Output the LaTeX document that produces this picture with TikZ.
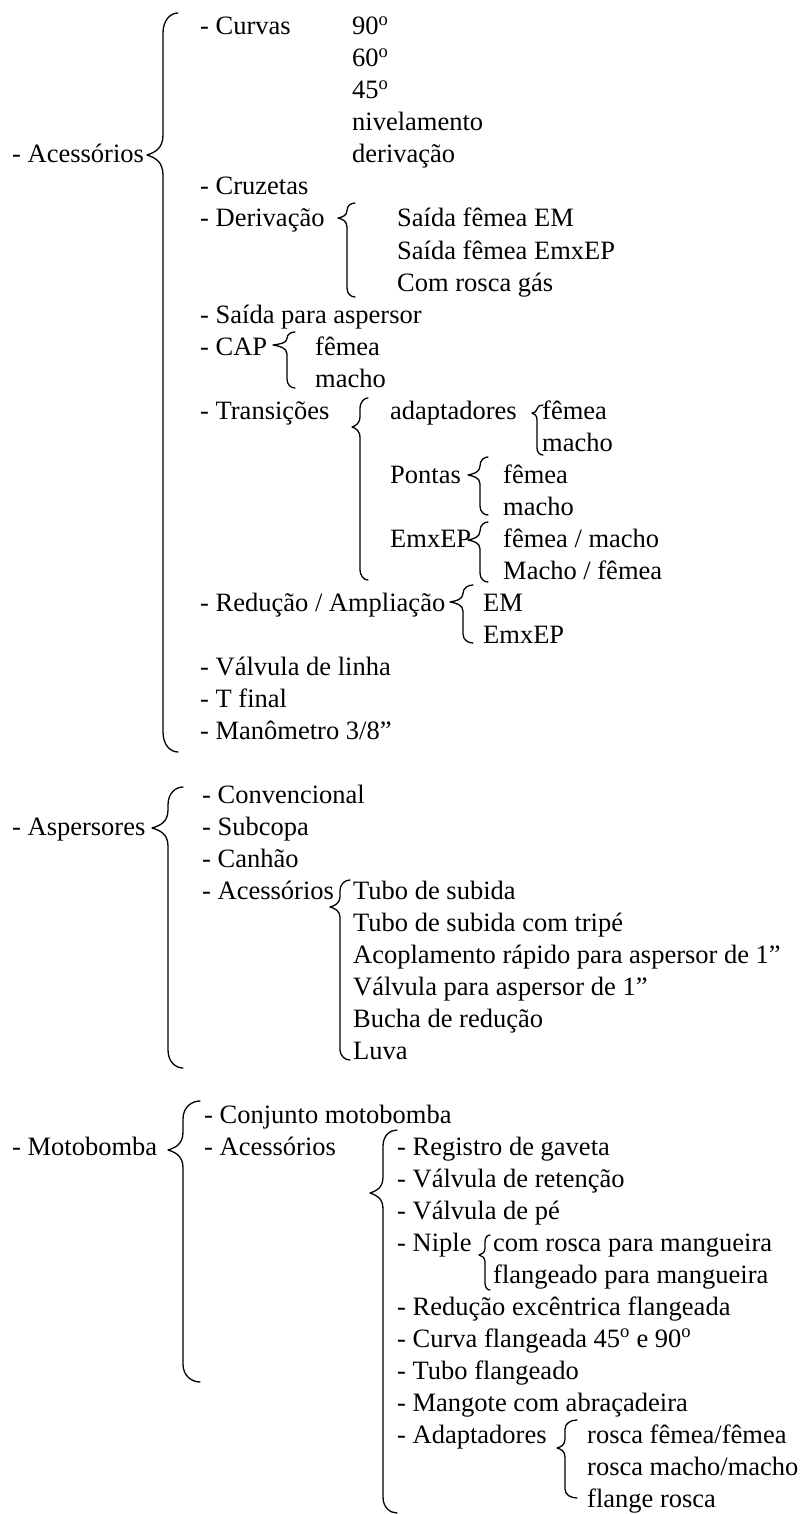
\documentclass[tikz,border=0pt]{standalone}
\usepackage{fontspec}
\setmainfont{Liberation Serif}
% #1 x of arm ends, #2 x of vertical, #3 x of tip, #4 y top, #5 y tip, #6 y bottom, #7 radius
\newcommand\mybrace[7]{%
 \pgfmathsetmacro\brA{min(#7,(#5-#4)/2)}%
 \pgfmathsetmacro\brB{min(#7,(#6-#5)/2)}%
 \pgfmathsetmacro\brX{#3+0.45*(#2-#3)}%
 \pgfmathsetmacro\brE{(#1+#2)/2}%
 \draw[bracestyle] (#1,#4) .. controls (\brE,#4) and (#2,{#4+0.35*\brA}) .. (#2,{#4+\brA})
   -- (#2,{#5-\brA}) .. controls (#2,{#5-0.3*\brA}) and (\brX,{#5-0.12*\brA}) .. (#3,#5)
   .. controls (\brX,{#5+0.12*\brB}) and (#2,{#5+0.3*\brB}) .. (#2,{#5+\brB})
   -- (#2,{#6-\brB}) .. controls (#2,{#6-0.35*\brB}) and (\brE,#6) .. (#1,#6);}
\newcommand\grau{\textsuperscript{o}}
\begin{document}
\begin{tikzpicture}[x=1pt,y=-1pt,
  txt/.style={anchor=base west,inner sep=0pt,font=\fontsize{26.5}{32}\selectfont},
  bracestyle/.style={line width=1.3pt,line cap=round,line join=round}]
\useasboundingbox[fill=white] (0,0) rectangle (806,1514);
% ---------- Acessorios ----------
\node[txt] (acc) at (12,163) {- Acessórios};
\mybrace{178}{163}{147}{13}{155}{752}{20}
\node[txt] (curvas) at (200,35) {- Curvas};
\node[txt] (c90) at (352,35) {90\grau};
\node[txt] (c60) at (352,67) {60\grau};
\node[txt] (c45) at (352,99) {45\grau};
\node[txt] (cniv) at (352,131) {nivelamento};
\node[txt] (cder) at (352,163) {derivação};
\node[txt] (cruz) at (200,195) {- Cruzetas};
\node[txt] (deriv) at (200,227) {- Derivação};
\mybrace{355}{347}{338}{203}{218}{297}{9}
\node[txt] (d1) at (397,227) {Saída fêmea EM};
\node[txt] (d2) at (397,259) {Saída fêmea EmxEP};
\node[txt] (d3) at (397,291) {Com rosca gás};
\node[txt] (said) at (200,323) {- Saída para aspersor};
\node[txt] (cap) at (200,355) {- CAP};
\mybrace{295}{287}{273}{332}{345}{388}{9}
\node[txt] (cap1) at (315,355) {fêmea};
\node[txt] (cap2) at (315,387) {macho};
\node[txt] (trans) at (200,419) {- Transições};
\mybrace{368}{360}{352}{398}{427}{580}{11}
\node[txt] (adap) at (390,419) {adaptadores};
\mybrace{543}{537}{532}{405}{413}{455}{7}
\node[txt] (adap1) at (542,419) {fêmea};
\node[txt] (adap2) at (542,451) {macho};
\node[txt] (pont) at (390,483) {Pontas};
\mybrace{488}{480}{468}{457}{475}{515}{9}
\node[txt] (pont1) at (503,483) {fêmea};
\node[txt] (pont2) at (503,515) {macho};
\node[txt] (emx) at (390,547) {EmxEP};
\mybrace{488}{480}{468}{522}{540}{582}{9}
\node[txt] (emx1) at (503,547) {fêmea / macho};
\node[txt] (emx2) at (503,579) {Macho / fêmea};
\node[txt] (red) at (200,611) {- Redução / Ampliação};
\mybrace{473}{463}{450}{585}{602}{643}{9}
\node[txt] (red1) at (483,611) {EM};
\node[txt] (red2) at (483,643) {EmxEP};
\node[txt] (valv) at (200,675) {- Válvula de linha};
\node[txt] (tfin) at (200,707) {- T final};
\node[txt] (mano) at (200,739) {- Manômetro 3/8”};
% ---------- Aspersores ----------
\node[txt] (asp) at (12,835) {- Aspersores};
\mybrace{183}{168}{152}{787}{828}{1068}{18}
\node[txt] (conv) at (202,803) {- Convencional};
\node[txt] (subc) at (202,835) {- Subcopa};
\node[txt] (canh) at (202,867) {- Canhão};
\node[txt] (aacc) at (202,899) {- Acessórios};
\mybrace{350}{340}{330}{880}{907}{1060}{11}
\node[txt] (aa1) at (353,899) {Tubo de subida};
\node[txt] (aa2) at (353,931) {Tubo de subida com tripé};
\node[txt] (aa3) at (353,963) {Acoplamento rápido para aspersor de 1”};
\node[txt] (aa4) at (353,995) {Válvula para aspersor de 1”};
\node[txt] (aa5) at (353,1027) {Bucha de redução};
\node[txt] (aa6) at (353,1059) {Luva};
% ---------- Motobomba ----------
\node[txt] (moto) at (12,1155) {- Motobomba};
\mybrace{200}{183}{168}{1101}{1150}{1382}{18}
\node[txt] (conj) at (204,1123) {- Conjunto motobomba};
\node[txt] (macc) at (204,1155) {- Acessórios};
\mybrace{397}{383}{370}{1130}{1193}{1513}{16}
\node[txt] (m1) at (397,1155) {- Registro de gaveta};
\node[txt] (m2) at (397,1187) {- Válvula de retenção};
\node[txt] (m3) at (397,1219) {- Válvula de pé};
\node[txt] (m4) at (397,1251) {- Niple};
\mybrace{490}{485}{479}{1235}{1255}{1290}{7}
\node[txt] (n1) at (493,1251) {com rosca para mangueira};
\node[txt] (n2) at (493,1283) {flangeado para mangueira};
\node[txt] (m5) at (397,1315) {- Redução excêntrica flangeada};
\node[txt] (m6) at (397,1347) {- Curva flangeada 45\grau{} e 90\grau};
\node[txt] (m7) at (397,1379) {- Tubo flangeado};
\node[txt] (m8) at (397,1411) {- Mangote com abraçadeira};
\node[txt] (m9) at (397,1443) {- Adaptadores};
\mybrace{577}{565}{557}{1420}{1448}{1498}{9}
\node[txt] (ad1) at (587,1443) {rosca fêmea/fêmea};
\node[txt] (ad2) at (587,1475) {rosca macho/macho};
\node[txt] (ad3) at (587,1507) {flange rosca};
\end{tikzpicture}
\end{document}
